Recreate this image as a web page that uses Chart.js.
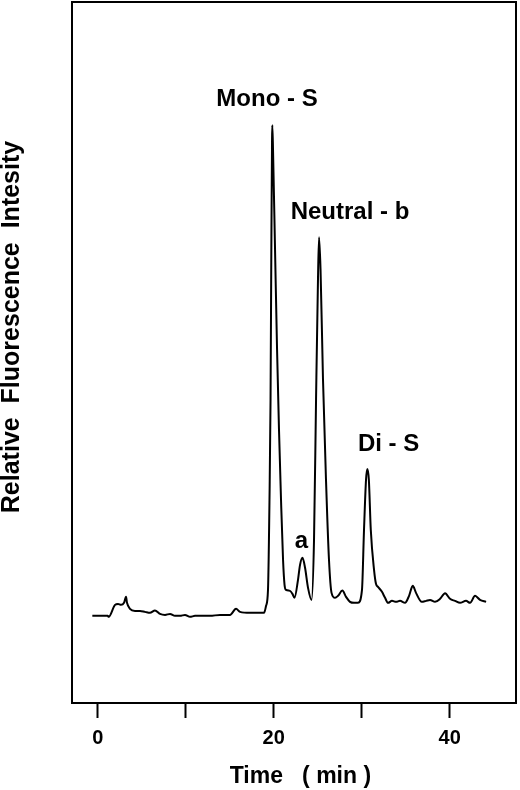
<!DOCTYPE html>
<html>
<head>
<meta charset="utf-8">
<script src="https://cdn.jsdelivr.net/npm/chart.js@4/dist/chart.umd.min.js"></script>
<style>
  html, body { margin: 0; padding: 0; background: #fff; }
  #wrap { width: 520px; height: 790px; }
</style>
</head>
<body>
<div id="wrap"><canvas id="chart" width="520" height="790"></canvas></div>
<script>
// chromatogram trace, time in min, intensity in arbitrary units
const timeMin = [
  -0.61, 1.14, 1.25, 1.97, 2.31, 2.65, 2.99, 3.22, 3.33, 3.67, 4.24, 4.81, 5.38, 5.94,
  6.51, 7.08, 7.65, 8.22, 8.78, 9.35, 9.92, 10.49, 11.06, 11.63, 12.76, 13.90, 15.03,
  15.72, 16.17, 17.31, 18.44, 18.90, 19.13, 19.35, 19.52, 19.64, 19.73, 19.81, 19.84,
  19.92, 20.15, 20.38, 20.60, 20.83, 21.06, 21.23, 21.40, 21.85, 22.13, 22.36, 22.76,
  22.99, 23.27, 23.56, 23.90, 24.30, 24.58, 24.81, 25.03, 25.15, 25.32, 25.60, 25.94,
  26.28, 26.57, 26.97, 27.31, 27.80, 28.22, 28.67, 29.13, 29.58, 30.03, 30.26, 30.49,
  30.64, 30.81, 31.03, 31.40, 31.62, 31.85, 32.30, 32.65, 32.99, 33.44, 33.90, 34.35,
  34.92, 35.38, 35.80, 36.17, 36.82, 37.31, 37.76, 38.33, 38.90, 39.47, 40.03, 40.60,
  41.17, 41.85, 42.31, 42.88, 43.44, 44.13
];
const intensity = [
  12.43, 12.43, 12.29, 14.0, 14.14, 14.0, 14.29, 15.14, 14.29, 13.43, 13.14, 13.14, 13.0, 12.86,
  13.19, 12.71, 12.57, 12.71, 12.43, 12.43, 12.57, 12.29, 12.43, 12.43, 12.43, 12.57, 12.57,
  13.43, 13.0, 12.86, 12.86, 12.86, 13.86, 16.14, 29.0, 43.29, 64.71, 80.43, 82.43,
  79.0, 64.71, 50.43, 39.0, 29.0, 20.43, 16.86, 16.14, 16.0, 15.57, 15.0, 17.57,
  19.71, 20.71, 19.29, 16.43, 14.71, 23.29, 43.29, 60.43, 66.43, 61.86, 46.14, 31.86,
  20.43, 15.71, 15.0, 15.29, 16.04, 15.14, 14.43, 14.29, 14.29, 16.14, 24.71, 31.86,
  33.39, 31.86, 24.71, 19.0, 17.0, 16.57, 15.86, 15.0, 14.29, 14.57, 14.43, 14.57,
  14.29, 15.29, 16.71, 15.71, 14.43, 14.57, 14.71, 14.43, 14.86, 15.67, 14.86, 14.57,
  14.29, 14.57, 14.29, 15.29, 14.71, 14.43
];

const tickValues = [0, 10, 20, 30, 40];
const tickLabels = ["0", "", "20", "", "40"];

// peak labels
const peakNames = ["Mono - S", "Neutral - b", "a", "Di - S"];
const peakTime = [19.24, 28.67, 23.16, 33.05];
const peakLevel = [86.1, 70.0, 23.0, 36.9];

const FONT = "'Liberation Sans', Arial, Helvetica, sans-serif";

const frameAndLabels = {
  id: "frameAndLabels",
  afterDraw(chart) {
    const { ctx, chartArea, scales } = chart;
    ctx.save();
    ctx.strokeStyle = "#000";
    ctx.lineWidth = 2;
    ctx.strokeRect(chartArea.left, chartArea.top, chartArea.right - chartArea.left, chartArea.bottom - chartArea.top);

    ctx.fillStyle = "#000";
    ctx.textAlign = "center";
    ctx.textBaseline = "middle";
    ctx.font = "bold 24px " + FONT;
    peakNames.forEach((name, i) => {
      ctx.fillText(name, scales.x.getPixelForValue(peakTime[i]), scales.y.getPixelForValue(peakLevel[i]));
    });

    // y axis title
    ctx.translate(12, 327);
    ctx.rotate(-Math.PI / 2);
    ctx.font = "bold 25px " + FONT;
    ctx.fillText("Relative  Fluorescence  Intesity", 0, 0);
    ctx.restore();
  },
};

new Chart(document.getElementById("chart"), {
  type: "line",
  data: {
    datasets: [
      {
        data: timeMin.map((t, i) => ({ x: t, y: intensity[i] })),
        borderColor: "#000",
        borderWidth: 2,
        pointRadius: 0,
        cubicInterpolationMode: "monotone",
        fill: false,
      },
    ],
  },
  options: {
    responsive: false,
    animation: false,
    layout: { padding: { top: 2, right: 4, bottom: 0, left: 0 } },
    plugins: {
      legend: { display: false },
      tooltip: { enabled: false },
    },
    scales: {
      x: {
        type: "linear",
        min: -2.92,
        max: 47.53,
        afterBuildTicks: (scale) => {
          scale.ticks = tickValues.map((v) => ({ value: v }));
        },
        afterFit: (scale) => {
          scale.height = 87;
        },
        ticks: {
          color: "#000",
          padding: 8,
          maxRotation: 0,
          font: { family: FONT, size: 20, weight: "bold" },
          callback: (value) => tickLabels[tickValues.indexOf(value)] ?? "",
        },
        grid: {
          display: true,
          drawOnChartArea: false,
          drawTicks: true,
          tickLength: 15,
          tickColor: "#000",
          tickWidth: 2,
        },
        border: { display: true, color: "#000", width: 2 },
        title: {
          display: true,
          text: "  Time   ( min )",
          color: "#000",
          padding: { top: 0, bottom: 0 },
          font: { family: FONT, size: 23, weight: "bold", lineHeight: 1.2 },
        },
      },
      y: {
        min: 0,
        max: 100,
        afterFit: (scale) => {
          scale.width = 72;
        },
        ticks: { display: false },
        grid: { display: false },
        border: { display: true, color: "#000", width: 2 },
      },
    },
  },
  plugins: [frameAndLabels],
});
</script>
</body>
</html>
